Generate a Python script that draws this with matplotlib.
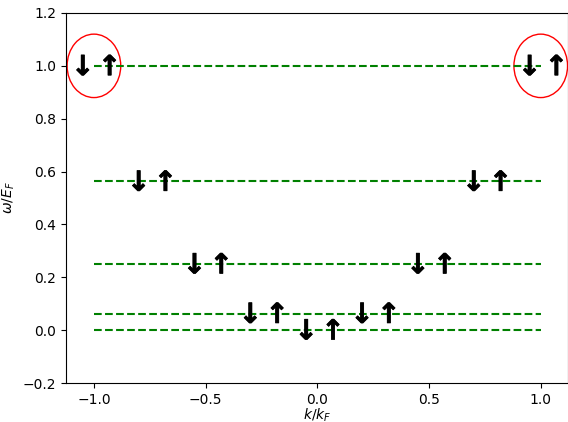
import matplotlib
matplotlib.use('Agg')
import matplotlib.pyplot as plt
import matplotlib.patheffects as pe
from matplotlib.patches import Circle

# energy levels (omega / E_F)
levels = [0.0, 0.0625, 0.25, 0.5625, 1.0]
# momentum of each occupied state and its energy
k_states = [-1.0, -0.75, -0.5, -0.25, 0.0, 0.25, 0.5, 0.75, 1.0]
w_states = [1.0, 0.5625, 0.25, 0.0625, 0.0, 0.0625, 0.25, 0.5625, 1.0]
# circled states
k_circ = [-1.0, 1.0]
w_circ = [1.0, 1.0]

fig = plt.figure(figsize=(5.68, 4.22), dpi=100)
ax = fig.add_axes([0.1162, 0.0924, 0.8838, 0.8768])

for w in levels:
    ax.hlines(w, -1, 1, colors='g', linestyles='dashed')

thick = [pe.withStroke(linewidth=0.5, foreground='k')]
for k, w in zip(k_states, w_states):
    ax.text(k - 0.05, w - 0.005, '↓', fontsize=20, fontweight='bold', ha='center', va='center',
            path_effects=thick)
    ax.text(k + 0.07, w - 0.005, '↑', fontsize=20, fontweight='bold', ha='center', va='center',
            path_effects=thick)

for k, w in zip(k_circ, w_circ):
    ax.add_patch(Circle((k, w), 0.12, fill=False, color='r'))

ax.set_xlim(-1.125, 1.122)
ax.set_ylim(-0.2, 1.2)
ax.set_xticks([-1.0, -0.5, 0.0, 0.5, 1.0])
ax.set_xlabel('$k/k_F$', labelpad=0)
ax.set_ylabel(r'$\omega/E_F$')

fig.savefig('out.png')
